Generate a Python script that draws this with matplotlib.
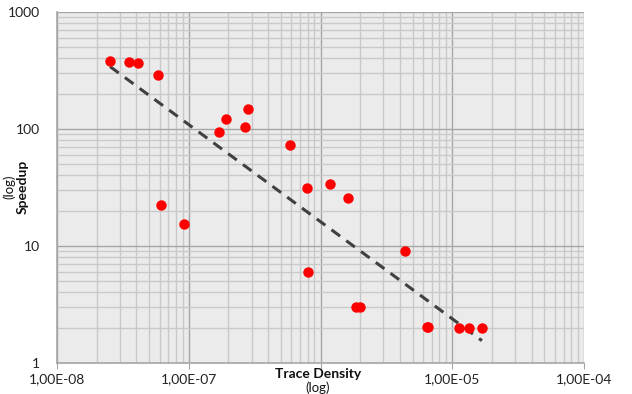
import numpy as np
import matplotlib.pyplot as plt
from matplotlib.ticker import LogLocator, FixedLocator, NullFormatter

# Trace density vs speedup
trace_density = [2.53e-8, 3.52e-8, 4.12e-8, 5.84e-8, 6.19e-8, 9.25e-8,
                 1.70e-7, 1.92e-7, 2.67e-7, 2.80e-7, 5.84e-7, 7.90e-7,
                 8.00e-7, 1.19e-6, 1.61e-6, 1.85e-6, 2.00e-6, 4.35e-6,
                 6.40e-6, 6.60e-6, 1.12e-5, 1.34e-5, 1.68e-5]
speedup = [379, 372, 365, 288, 22.3, 15.3,
           93.3, 120.6, 103, 147.6, 72.3, 31,
           6.0, 33.6, 25.4, 3.03, 3.03, 9.1,
           2.03, 2.03, 2.0, 2.0, 2.0]

x_ticks = [1e-8, 1e-7, 1e-6, 1e-5, 1e-4]
x_tick_labels = ['1,00E-08', '1,00E-07', '', '1,00E-05', '1,00E-04']
y_ticks = [1, 10, 100, 1000]
y_tick_labels = ['1', '10', '100', '1000']

plt.rcParams['font.family'] = ['Lato', 'DejaVu Sans']

fig = plt.figure(figsize=(6.32, 3.94), dpi=100)
ax = fig.add_axes([57 / 632, 31 / 394, 527 / 632, 351.3 / 394])
ax.set_facecolor('#ebebeb')

ax.set_xscale('log')
ax.set_yscale('log')
ax.set_xlim(1e-8, 1e-4)
ax.set_ylim(1, 1000)

ax.xaxis.set_major_locator(FixedLocator(x_ticks))
ax.set_xticklabels(x_tick_labels)
ax.yaxis.set_major_locator(FixedLocator(y_ticks))
ax.set_yticklabels(y_tick_labels)
for axis in (ax.xaxis, ax.yaxis):
    axis.set_minor_locator(LogLocator(base=10, subs=np.arange(2, 10), numticks=20))
    axis.set_minor_formatter(NullFormatter())

ax.grid(which='major', color='#a6a6a6', linewidth=1.0)
ax.grid(which='minor', color='#c9c9c9', linewidth=1.0)
ax.set_axisbelow(True)

for side in ('top', 'right'):
    ax.spines[side].set_visible(False)
for side in ('left', 'bottom'):
    ax.spines[side].set_color('#a6a6a6')
    ax.spines[side].set_linewidth(1.2)

ax.tick_params(axis='x', which='major', length=4, color='#a6a6a6',
               labelsize=10, labelcolor='#222222', pad=3)
ax.tick_params(axis='y', which='major', length=0, labelsize=10,
               labelcolor='#222222', pad=12)
ax.tick_params(which='minor', length=0)

# power-law trend line (least squares in log-log space)
lx = np.log10(trace_density)
ly = np.log10(speedup)
slope, intercept = np.polyfit(lx, ly, 1)
fx = np.array([min(trace_density), max(trace_density)])
fy = 10 ** (intercept + slope * np.log10(fx))
ax.plot(fx, fy, color='#404040', linestyle=(0, (3.5, 2.5)), linewidth=2.2, zorder=3)

ax.plot(trace_density, speedup, 'o', color='#ff0000', markersize=7.5,
        markeredgewidth=0, zorder=4)

fig.text(318 / 632, 1 - 374 / 394, 'Trace Density', ha='center', va='center',
         fontsize=10, fontweight='bold', color='#111111')
fig.text(318 / 632, 1 - 387.5 / 394, '(log)', ha='center', va='center',
         fontsize=9.5, color='#111111')
fig.text(23 / 632, 1 - 187 / 394, 'Speedup', ha='center', va='center',
         rotation=90, fontsize=10, fontweight='bold', color='#111111')
fig.text(9.5 / 632, 1 - 187 / 394, '(log)', ha='center', va='center',
         rotation=90, fontsize=9.5, color='#111111')

fig.savefig('out.png', dpi=100)
